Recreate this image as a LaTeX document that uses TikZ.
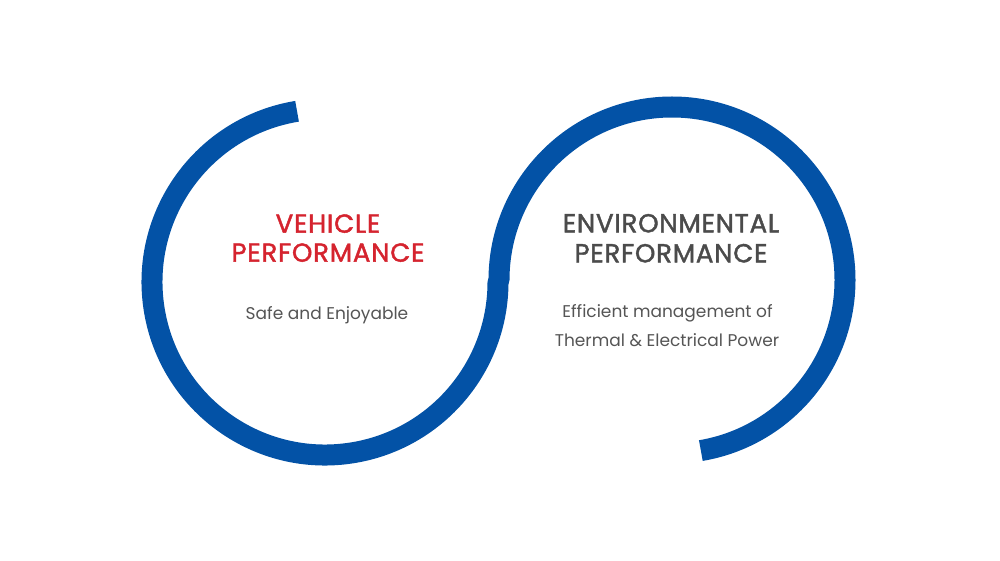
\documentclass[tikz,border=0pt]{standalone}
\usepackage{fontspec}
\usetikzlibrary{calc}
\newfontfamily\hfont{Poppins}
\newfontfamily\hbfont{Poppins}[FakeBold=1.6,LetterSpace=3]
\definecolor{arcblue}{RGB}{3,82,166}
\definecolor{headred}{RGB}{213,35,46}
\definecolor{headgray}{RGB}{75,75,75}
\definecolor{subgray}{RGB}{85,85,85}
\tikzset{
  band/.style={line width=21pt, draw=arcblue, line cap=butt, line join=round},
  headline/.style={anchor=base, inner sep=0pt, font=\hbfont\fontsize{26}{29}\selectfont},
  subline/.style={anchor=base, inner sep=0pt, text=subgray, font=\hfont\fontsize{17}{29}\selectfont},
}
\begin{document}
\begin{tikzpicture}[x=1pt,y=1pt]
\useasboundingbox[fill=white] (0,0) rectangle (1000,560);
% S-shaped band
\coordinate (lc) at (325,278);
\coordinate (rc) at (672,280);
\coordinate (s) at ($(lc)+(99.3:173)$);
\draw[band] (s) arc[start angle=99.3, end angle=360, radius=173]
  -- ($(rc)+(180:173)$) arc[start angle=180, end angle=-80.4, radius=173];
% left texts
\node[headline, text=headred] (v1) at (328,327.3) {VEHICLE};
\node[headline, text=headred] (v2) at (328,298.3) {PERFORMANCE};
\node[subline] (v3) at (327,241) {Safe and Enjoyable};
% right texts
\node[headline, text=headgray] (e1) at (671,327.7) {ENVIRONMENTAL};
\node[headline, text=headgray] (e2) at (671,297.7) {PERFORMANCE};
\node[subline] (e3) at (667.5,242.7) {Efficient management of};
\node[subline] (e4) at (667,213.3) {Thermal \& Electrical Power};
\end{tikzpicture}
\end{document}
